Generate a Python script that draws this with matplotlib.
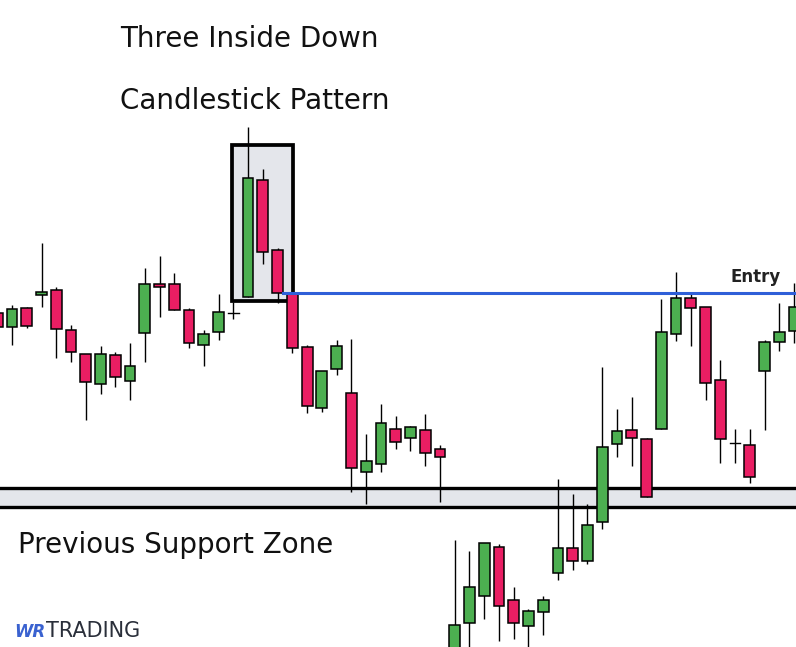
import matplotlib
matplotlib.use("Agg")
import matplotlib.pyplot as plt
from matplotlib.patches import Rectangle

# ---- data (price units, arbitrary scale) ----
idx = list(range(-1, 54))
opens = [334, 320, 339, 352, 357, 317, 293, 263, 292, 266, 314, 363, 363, 337, 302, 315, 334,
         350, 467, 397, 354, 300, 239, 278, 254, 175, 183, 218, 209, 217, 198,
         -15, 24, 51, 100, 47, 21, 35, 74, 99, 86, 125, 203, 217, 208,
         218, 313, 349, 340, 267, 204, 202, 276, 305, 316]
highs = [336, 342, 340, 404, 360, 322, 293, 301, 295, 304, 379, 391, 374, 339, 317, 353, 345,
         520, 478, 399, 354, 302, 276, 307, 308, 213, 243, 231, 221, 233, 202,
         107, 96, 104, 103, 60, 38, 51, 168, 153, 143, 280, 238, 250, 209,
         348, 375, 354, 340, 287, 218, 218, 307, 344, 364]
lows = [318, 302, 319, 340, 289, 285, 227, 253, 260, 247, 285, 330, 337, 299, 281, 307, 328,
        350, 383, 344, 294, 234, 235, 272, 155, 143, 175, 198, 196, 181, 145,
        -20, -10, 28, 6, 8, -10, 12, 67, 77, 83, 118, 190, 181, 150,
        218, 306, 301, 247, 184, 184, 164, 217, 296, 304]
closes = [320, 338, 321, 355, 318, 295, 265, 293, 270, 281, 363, 360, 337, 304, 313, 335, 334,
          469, 395, 354, 299, 241, 276, 301, 179, 186, 224, 205, 220, 194, 190,
          22, 60, 104, 41, 24, 36, 47, 99, 86, 122, 200, 216, 209, 150,
          315, 349, 339, 264, 208, 204, 170, 305, 315, 340]

entry_level = 354
support_top = 159
support_bottom = 140
pattern_start, pattern_end = 16, 18
pattern_high, pattern_low = 502, 346

title_lines = ["Three Inside Down", "Candlestick Pattern"]
zone_label = "Previous Support Zone"
entry_label = "Entry"

GREEN = "#4CAF50"
RED = "#E91E63"
ZONE = "#e4e6eb"
BLUE = "#2f5fd8"

fig = plt.figure(figsize=(7.96, 6.47), dpi=100)
ax = fig.add_axes([0, 0, 1, 1])
ax.set_xlim(-0.813, 53.13)
ax.set_ylim(0, 647)
ax.axis("off")

bw = 0.73
lw = 1.1

# support zone
ax.axhspan(support_bottom, support_top, color=ZONE, zorder=1, lw=0)
ax.axhline(support_top, color="black", lw=2.4, zorder=2)
ax.axhline(support_bottom, color="black", lw=2.4, zorder=2)

# pattern box
bx0 = pattern_start - 1.09
bx1 = pattern_end + 1.04
ax.add_patch(Rectangle((bx0, pattern_low), bx1 - bx0, pattern_high - pattern_low,
                       facecolor=ZONE, edgecolor="black", lw=2.7, zorder=2))

# candles
for i, o, h, l, c in zip(idx, opens, highs, lows, closes):
    ax.plot([i, i], [l, h], color="black", lw=1.0, zorder=3, solid_capstyle="butt")
    if o == c:
        ax.plot([i - bw / 2, i + bw / 2], [o, o], color="black", lw=1.0, zorder=4)
        continue
    col = GREEN if c > o else RED
    ax.add_patch(Rectangle((i - bw / 2, min(o, c)), bw, abs(c - o),
                           facecolor=col, edgecolor="black", lw=lw, zorder=4))

# entry line
ax.plot([pattern_end + bw / 2, 53.13], [entry_level, entry_level], color=BLUE, lw=2.2, zorder=5)
ax.text(50.4, 370, entry_label, fontsize=12, fontweight="bold", color="#222222",
        ha="center", va="center", zorder=6)

# texts
ax.text(-0.813 + 120 / 14.755, 647 - 47, title_lines[0], fontsize=20, color="#111111",
        ha="left", va="baseline")
ax.text(-0.813 + 120 / 14.755, 647 - 109, title_lines[1], fontsize=20, color="#111111",
        ha="left", va="baseline")
ax.text(-0.813 + 18 / 14.755, 647 - 553, zone_label, fontsize=20, color="#111111",
        ha="left", va="baseline")

# logo
ax.text(-0.813 + 14 / 14.755, 647 - 637, "WR", fontsize=12, fontweight="bold", style="italic",
        color="#3a62d0", ha="left", va="baseline")
ax.text(-0.813 + 46 / 14.755, 647 - 637, "TRADING", fontsize=15, fontweight="normal",
        color="#2a2f3a", ha="left", va="baseline")

fig.savefig("out.png", dpi=100, facecolor="white")
